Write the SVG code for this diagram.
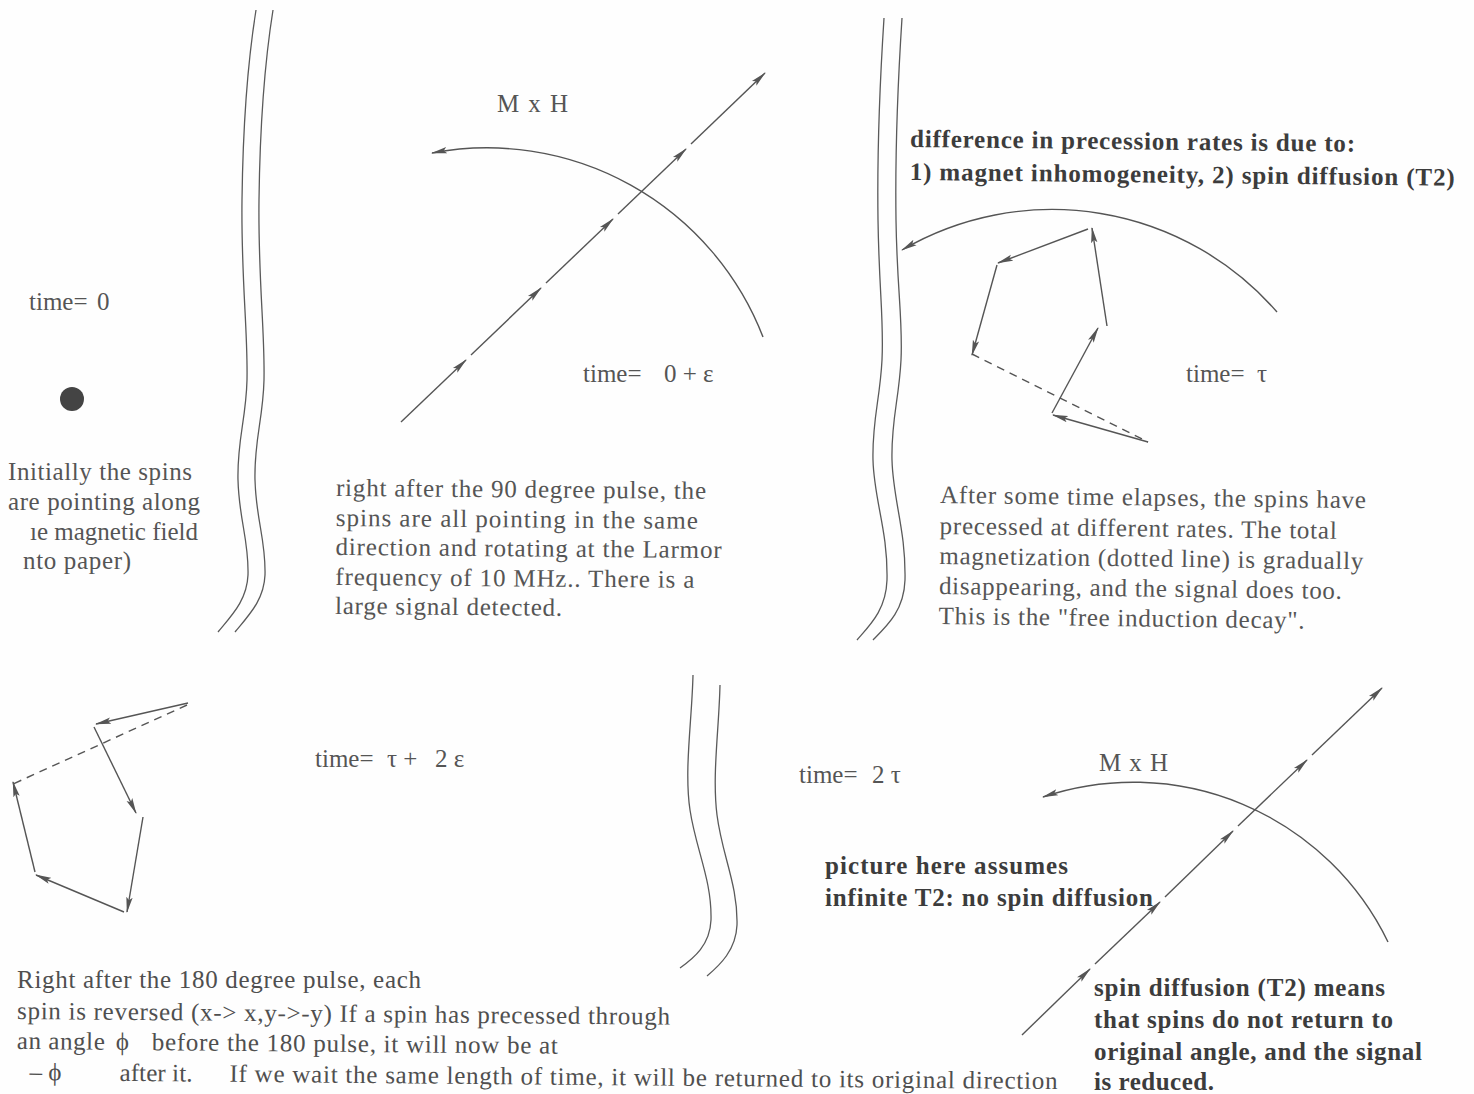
<svg xmlns="http://www.w3.org/2000/svg" width="1474" height="1094" viewBox="0 0 1474 1094">
<style>
.t{font-family:"Liberation Serif","Times New Roman",serif;font-size:25px;fill:#555}
.tr{font-family:"Liberation Serif","Times New Roman",serif;font-size:25px;fill:#555}
.c{font-family:"Liberation Serif","Times New Roman",serif;font-size:25px;fill:#4f4f4f}
.b{font-family:"Liberation Serif","Times New Roman",serif;font-size:25px;font-weight:bold;fill:#3c3c3c}
.ln{fill:none;stroke:#555;stroke-width:1.4}
.dv{fill:none;stroke:#5a5a5a;stroke-width:1.3}
.ds{stroke-dasharray:8 6}
.ar{marker-end:url(#ah)}
</style>
<defs>
<marker id="ah" markerUnits="userSpaceOnUse" markerWidth="16" markerHeight="8" refX="15" refY="4" orient="auto" viewBox="0 0 16 8">
<path d="M0,0.8 L16,4 L0,7.2 L3,4 z" fill="#555"/>
</marker>
</defs>
<rect width="1474" height="1094" fill="#fefefe"/>

<g id="dividers">
<path class="dv" d="M256,10 C248,60 243,120 242,200 C241,280 248,330 247,380 C246,420 237,440 238,480 C239,520 249,540 248,575 C247,600 232,615 218,632"/>
<path class="dv" d="M273,10 C265,60 260,120 259,200 C258,280 265,330 264,380 C263,420 254,440 255,480 C256,520 266,540 265,575 C264,600 249,615 235,632"/>
<path class="dv" d="M884,18 C880,80 877,150 878,220 C879,290 884,320 882,360 C880,400 872,420 873,460 C874,500 888,530 887,580 C886,610 870,625 857,640"/>
<path class="dv" d="M902,18 C898,80 895,150 896,220 C897,290 903,320 901,360 C899,400 891,420 892,460 C893,500 906,530 905,580 C904,610 888,625 873,640"/>
<path class="dv" d="M693,675 C692,720 684,770 690,810 C696,850 712,880 711,920 C710,945 694,958 680,968"/>
<path class="dv" d="M720,685 C719,730 712,775 717,815 C722,855 738,885 737,925 C736,950 720,965 707,976"/>
</g>

<g id="node-time0">
<text class="t" x="29" y="310"><tspan>time=</tspan><tspan x="97">0</tspan></text>
<circle cx="72" cy="399" r="12" fill="#444"/>
<text class="t" x="8" y="480" textLength="184">Initially the spins</text>
<text class="t" x="8" y="510" textLength="192">are pointing along</text>
<text class="t" x="30" y="540" textLength="168">ıe magnetic field</text>
<text class="t" x="23" y="569" textLength="108">nto paper)</text>
</g>

<g id="node-time0eps">
<text class="t" x="497" y="112" textLength="71">M x H</text>
<text class="t" x="583" y="382"><tspan>time=</tspan><tspan x="664">0 + ε</tspan></text>
<g transform="rotate(0.45 336 496)">
<text class="t" x="336" y="496" textLength="370">right after the 90 degree pulse, the</text>
<text class="t" x="336" y="526" textLength="362">spins are all  pointing in the same</text>
<text class="t" x="336" y="555" textLength="386">direction and rotating at the Larmor</text>
<text class="t" x="336" y="585" textLength="359">frequency of 10 MHz.. There is a</text>
<text class="t" x="336" y="614" textLength="227">large signal detected.</text>
</g>
</g>

<g id="node-timetau">
<g transform="rotate(0.6 910 147)">
<text class="b" x="910" y="147" textLength="445">difference in precession rates is due to:</text>
<text class="b" x="910" y="180" textLength="545">1) magnet inhomogeneity, 2) spin diffusion (T2)</text>
</g>
<text class="tr" x="1186" y="382"><tspan>time=</tspan><tspan x="1257">τ</tspan></text>
<g transform="rotate(0.7 940 503)">
<text class="tr" x="940" y="503" textLength="426">After some time elapses, the spins have</text>
<text class="tr" x="940" y="534" textLength="397">precessed at different rates. The total</text>
<text class="tr" x="940" y="564" textLength="424">magnetization (dotted line) is gradually</text>
<text class="tr" x="940" y="594" textLength="403">disappearing, and the signal does too.</text>
<text class="tr" x="940" y="624" textLength="366">This is the "free induction decay".</text>
</g>
</g>

<g id="node-timetau2eps">
<text class="t" x="315" y="767"><tspan>time=</tspan><tspan x="387">τ +</tspan><tspan x="435">2 ε</tspan></text>
<text class="c" x="17" y="988" textLength="404">Right after the 180 degree pulse, each</text>
<g transform="rotate(0.5 17 1019)">
<text class="c" x="17" y="1019" textLength="653">spin is reversed (x-&gt; x,y-&gt;-y) If a spin has precessed through</text>
<text class="c" x="17" y="1049"><tspan textLength="88">an angle</tspan><tspan x="116">ϕ</tspan><tspan x="152" textLength="406">before the 180 pulse, it will now be at</tspan></text>
<text class="c" x="30" y="1080"><tspan>– ϕ</tspan><tspan x="120" textLength="73">after it.</tspan><tspan x="230" textLength="828">If we wait the same length of time, it will be returned to its original direction</tspan></text>
</g>
</g>

<g id="node-time2tau">
<text class="t" x="799" y="783"><tspan>time=</tspan><tspan x="872">2 τ</tspan></text>
<text class="t" x="1099" y="771" textLength="69">M x H</text>
<text class="b" x="825" y="874" textLength="243">picture here assumes</text>
<text class="b" x="825" y="906" textLength="328">infinite T2: no spin diffusion</text>
<text class="b" x="1094" y="996" textLength="291">spin diffusion (T2) means</text>
<text class="b" x="1094" y="1028" textLength="299">that spins do not return to</text>
<text class="b" x="1094" y="1060" textLength="328">original angle, and the signal</text>
<text class="b" x="1094" y="1090" textLength="120">is reduced.</text>
</g>

<g id="connectors">
<path class="ln ar" d="M401,422 L466,360"/>
<path class="ln ar" d="M471,355 L541,288"/>
<path class="ln ar" d="M546,283 L613,219"/>
<path class="ln ar" d="M618,214 L686,149"/>
<path class="ln ar" d="M691,144 L765,73"/>
<path class="ln ar" d="M763,337 A296,296 0 0,0 432,153"/>
<path class="ln ar" d="M1277,312 A298,298 0 0,0 902,250"/>
<path class="ln ds" d="M972,354 L1148,442"/>
<path class="ln ar" d="M1148,442 L1053,415"/>
<path class="ln ar" d="M1052,413 L1098,328"/>
<path class="ln ar" d="M1107,326 L1092,228"/>
<path class="ln ar" d="M1088,229 L998,263"/>
<path class="ln ar" d="M997,265 L972,355"/>
<path class="ln ds" d="M187,705 L13,784"/>
<path class="ln ar" d="M188,703 L96,724"/>
<path class="ln ar" d="M94,727 L136,813"/>
<path class="ln ar" d="M143,817 L127,912"/>
<path class="ln ar" d="M124,912 L36,875"/>
<path class="ln ar" d="M35,872 L13,782"/>
<path class="ln ar" d="M1022,1035 L1090,969"/>
<path class="ln ar" d="M1095,964 L1160,902"/>
<path class="ln ar" d="M1165,897 L1233,831"/>
<path class="ln ar" d="M1238,826 L1307,760"/>
<path class="ln ar" d="M1312,755 L1382,688"/>
<path class="ln ar" d="M1388,942 A283,283 0 0,0 1043,797"/>
</g>
</svg>
